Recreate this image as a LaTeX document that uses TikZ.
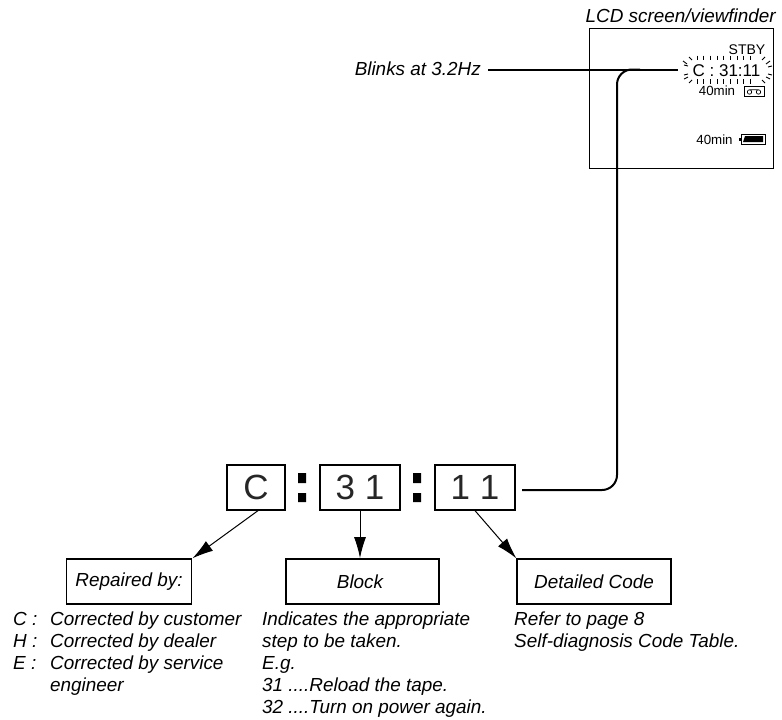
\documentclass[tikz,border=0pt]{standalone}
\usepackage{fontspec}
\setmainfont{Liberation Sans}
\usetikzlibrary{arrows.meta}
\tikzset{
  x=1pt,y=-1pt,
  box/.style={draw,line width=1.3pt,minimum height=45pt,inner sep=0pt},
  lbl/.style={draw,line width=1.3pt,minimum height=45pt,inner sep=0pt,font=\fontsize{18.9}{20}\selectfont\itshape},
  note/.style={anchor=north west,align=left,inner sep=0pt,font=\fontsize{18.9}{21.8}\selectfont\itshape},
  arr/.style={line width=1pt,-{Latex[length=21pt,width=12pt]}},
  lead/.style={line width=2pt,rounded corners=15pt},
  dig/.style={font=\fontsize{35}{35}\selectfont,color=black!85},
  ital/.style={inner sep=0pt,font=\fontsize{18.9}{21}\selectfont\itshape},
  lcd/.style={inner sep=0pt,font=\fontsize{13.3}{15}\selectfont},
  ray/.style={line width=.9pt}
}
\begin{document}
\begin{tikzpicture}
\useasboundingbox (0,0) rectangle (782,720);
% LCD
\draw[line width=.7pt] (589,28) rectangle (773,168);
\node[ital,anchor=east] (lcdt) at (776,16) {LCD screen/viewfinder};
\node[lcd,font=\fontsize{14}{15}\selectfont] (stby) at (747,50) {STBY};
\node[inner sep=0pt,font=\fontsize{17}{18}\selectfont] (code) at (726.5,70.5) {C : 31:11};
\node[lcd] (m1) at (717,91) {40min};
\node[draw,line width=.8pt,minimum width=20pt,minimum height=10pt,inner sep=0pt] (tape) at (754,91) {};
\draw[line width=.7pt] (749.5,92) circle (2.2pt) (758.5,92) circle (2.2pt) (749.5,89.8) -- (758.5,89.8);
\node[lcd] (m2) at (714.5,140) {40min};
\node[draw,line width=.8pt,minimum width=24pt,minimum height=10pt,inner sep=0pt] (batt) at (753,139) {};
\fill (745,136) -- (763,136) -- (763,142) -- (743,142) -- cycle;
\fill (739,137.5) rectangle (741,140.5);
\foreach \i in {0,...,8}{\draw[ray] ({697+\i*6.7},55.5) -- ++(0,4.5) ({697+\i*6.7},79) -- ++(0,4.5);}
\foreach \a/\b/\c/\d in {689/57/692/60, 683/61/687/64, 684/65/688/66, 684/75/688/74, 684/79/688/77, 689/83/692/80, 765/57/762/60, 770/61/766/64, 772/66/768/67, 772/75/768/74, 770/79/766/77, 765/83/762/80}{\draw[ray] (\a,\b) -- (\c,\d);}
% top label
\node[ital,anchor=east] (blink) at (481,68.5) {Blinks at 3.2Hz};
\coordinate (c1) at (678,69.5);
\coordinate (c0) at (488,69.5);
\draw[line width=2pt] (c0) -- (c1);
% boxes
\node[box,minimum width=58pt] (bc) at (256,487.5) {};
\node[dig] at (bc.center) {C};
\node[box,minimum width=80pt] (b31) at (360,487.5) {};
\node[dig] at (b31.center) {3 1};
\node[box,minimum width=80pt] (b11) at (475,487.5) {};
\node[dig] at (b11.center) {1 1};
\fill (298,473) rectangle (306,483) (298,493) rectangle (306,502);
\fill (413,473) rectangle (421,483) (413,493) rectangle (421,502);
% leader
\coordinate (l0) at (522,490);
\coordinate (l1) at (617,490);
\coordinate (l2) at (617,69.5);
\coordinate (l3) at (640,69.5);
\draw[lead] (l0) -- (l1) -- (l2) -- (l3);
% label boxes
\node[lbl,minimum width=125.5pt] (rep) at (129,581.5) {Repaired by:};
\node[lbl,minimum width=153pt] (blk) at (362.5,581.5) {\hspace{-5pt}Block};
\node[lbl,minimum width=154pt] (det) at (594,581.5) {Detailed Code};
\draw[arr] (bc.south)++(2,0) -- (rep.north east);
\draw[arr] (b31.south) -- ++(0,47.5);
\draw[arr] (b11.south) -- (det.north west);
% notes
\node[note] (n1) at (13,612) {C :\\H :\\E :};
\node[note] (n1b) at (50,612) {Corrected by customer\\Corrected by dealer\\Corrected by service\\engineer};
\node[note] (n2) at (262,612) {Indicates the appropriate\\step to be taken.\\E.g.\\31 ....Reload the tape.\\32 ....Turn on power again.};
\node[note] (n3) at (514,612) {Refer to page 8\\Self-diagnosis Code Table.};
\end{tikzpicture}
\end{document}
